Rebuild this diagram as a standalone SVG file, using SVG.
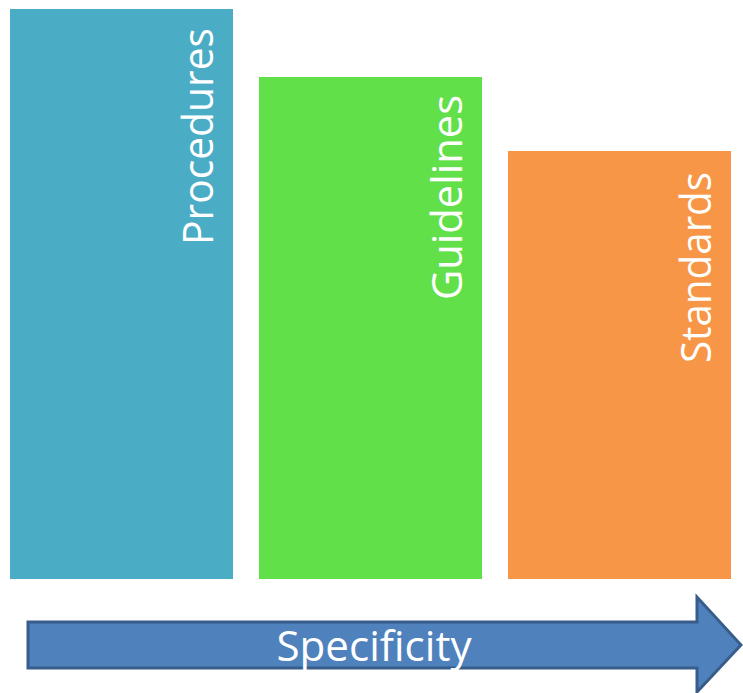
<svg xmlns="http://www.w3.org/2000/svg" width="743" height="693" viewBox="0 0 743 693">
  <style>
    .lbl { font-family: "Open Sans", "Liberation Sans", sans-serif; fill: #ffffff; font-size: 42px; }
  </style>
  <rect width="743" height="693" fill="#ffffff"/>
  <g id="procedures">
    <rect x="10" y="9" width="223" height="570" fill="#4BACC6"/>
    <text class="lbl" transform="translate(213,245) rotate(-90)" textLength="217" lengthAdjust="spacingAndGlyphs">Procedures</text>
  </g>
  <g id="guidelines">
    <rect x="259" y="77" width="223" height="502" fill="#62E04A"/>
    <text class="lbl" transform="translate(462,300) rotate(-90)" textLength="205" lengthAdjust="spacingAndGlyphs">Guidelines</text>
  </g>
  <g id="standards">
    <rect x="508" y="151" width="223" height="428" fill="#F79646"/>
    <text class="lbl" transform="translate(711,363) rotate(-90)" textLength="191" lengthAdjust="spacingAndGlyphs">Standards</text>
  </g>
  <g id="connectors">
    <path d="M28,622 L697,622 L697,597 L741,645 L697,692 L697,668 L28,668 Z" fill="#4F81BD" stroke="#385D8A" stroke-width="3" stroke-linejoin="miter"/>
    <text class="lbl" x="374" y="661" text-anchor="middle" textLength="195" lengthAdjust="spacingAndGlyphs">Specificity</text>
  </g>
</svg>
